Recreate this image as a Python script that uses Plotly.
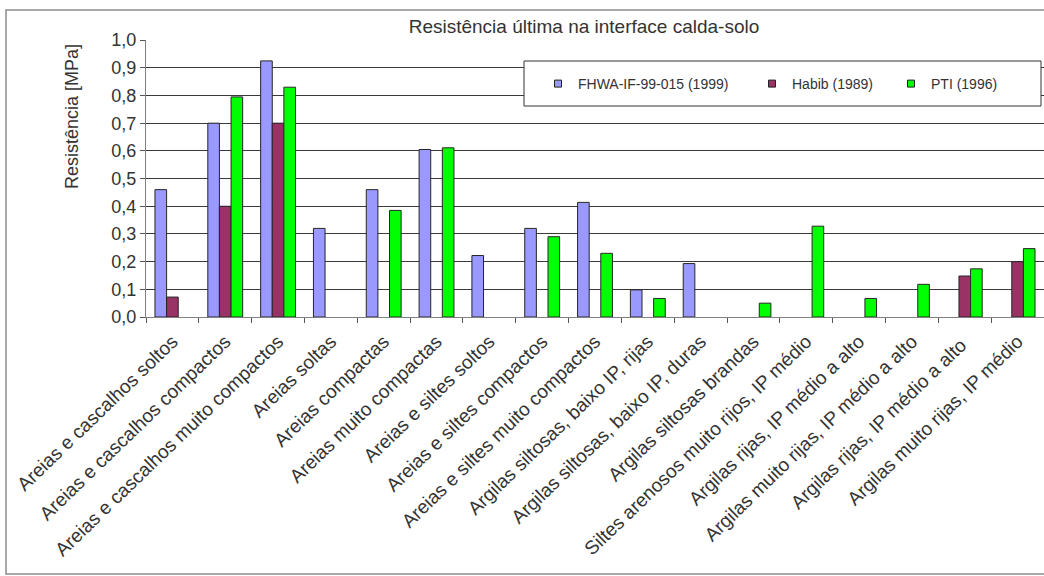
import plotly.graph_objects as go

# ---------------- data ----------------
categories = [
    "Areias e cascalhos soltos",
    "Areias e cascalhos compactos",
    "Areias e cascalhos muito compactos",
    "Areias soltas",
    "Areias compactas",
    "Areias muito compactas",
    "Areias e siltes soltos",
    "Areias e siltes compactos",
    "Areias e siltes muito compactos",
    "Argilas siltosas, baixo IP, rijas",
    "Argilas siltosas, baixo IP, duras",
    "Argilas siltosas brandas",
    "Siltes arenosos muito rijos, IP médio",
    "Argilas rijas, IP médio a alto",
    "Argilas muito rijas, IP médio a alto",
    "Argilas rijas, IP médio a alto ",
    "Argilas muito rijas, IP médio",
]
fhwa = [0.46, 0.70, 0.925, 0.32, 0.46, 0.605, 0.222, 0.32, 0.414, 0.098, 0.193,
        None, None, None, None, None, None]
habib = [0.072, 0.40, 0.70, None, None, None, None, None, None, None, None,
         None, None, None, None, 0.148, 0.20]
pti = [None, 0.795, 0.83, None, 0.385, 0.611, None, 0.29, 0.23, 0.067, None,
       0.05, 0.328, 0.067, 0.118, 0.174, 0.247]
series_names = ["FHWA-IF-99-015 (1999)", "Habib (1989)", "PTI (1996)"]
series_values = [fhwa, habib, pti]
colors = ["#9999FF", "#993366", "#00FF00"]
yticks = [0.0, 0.1, 0.2, 0.3, 0.4, 0.5, 0.6, 0.7, 0.8, 0.9, 1.0]
title_text = "Resistência última na interface calda-solo"
ytitle_text = "Resistência [MPa]"

# ---------------- layout geometry (pixels) ----------------
W, H = 1044, 576
PL, PR, PT, PB = 146, 1044, 40, 317   # plot area edges
pw, ph = PR - PL, PB - PT


def px(x):
    return (x - PL) / pw


def py(y):
    return (PB - y) / ph


FONT = "Liberation Sans, Arial, sans-serif"
TXT = "#333333"

fig = go.Figure()
for name, vals, col in zip(series_names, series_values, colors):
    fig.add_trace(go.Bar(
        x=categories, y=vals, name=name,
        marker=dict(color=col, line=dict(color="#262626", width=1)),
        showlegend=False,
    ))

legend_widths = [169, 94, 80]
for name, col, lw in zip(series_names, colors, legend_widths):
    fig.add_trace(go.Scatter(
        x=[None], y=[None], mode="markers", name=name,
        marker=dict(symbol="square", size=7, color=col,
                    line=dict(color="#222222", width=1)),
        legendwidth=lw,
    ))

fig.update_layout(
    width=W, height=H,
    margin=dict(l=PL, r=W - PR, t=PT, b=H - PB),
    paper_bgcolor="white", plot_bgcolor="white",
    separators=",.",
    barmode="group", bargap=0.34, bargroupgap=0,
    font=dict(family=FONT, color=TXT),
    title=dict(text=title_text, x=584 / W, xref="container", xanchor="center",
               y=1 - 26 / H, yref="container", yanchor="middle",
               font=dict(size=19, family=FONT, color=TXT)),
    showlegend=True,
    legend=dict(orientation="h", x=px(538), xanchor="left",
                y=py(84), yanchor="middle",
                bgcolor="rgba(0,0,0,0)", borderwidth=0,
                font=dict(size=14, family=FONT, color=TXT),
                itemwidth=30),
    xaxis=dict(
        type="category", range=[-0.5, len(categories) - 0.5],
        tickangle=-44, tickson="boundaries", ticks="outside", ticklen=5,
        ticklabelstandoff=5,
        tickcolor="#555555", showline=True, linecolor="#808080", linewidth=1,
        showgrid=False, tickfont=dict(size=19, family=FONT, color=TXT),
        fixedrange=True,
    ),
    yaxis=dict(
        range=[0, 1.0005], tickvals=yticks, tickformat=".1f",
        ticks="outside", ticklen=5, tickcolor="#555555",
        showline=True, linecolor="#808080", linewidth=1,
        showgrid=True, gridcolor="#3a3a3a", gridwidth=1, zeroline=False,
        tickfont=dict(size=18, family=FONT, color=TXT),
    ),
    annotations=[dict(
        text=ytitle_text, textangle=-90, showarrow=False,
        xref="paper", yref="paper", x=px(72), y=py(117),
        xanchor="center", yanchor="middle",
        font=dict(size=18, family=FONT, color=TXT),
    )],
    shapes=[
        dict(type="rect", xref="paper", yref="paper",
             x0=px(6), x1=px(1060), y0=py(574), y1=py(10),
             line=dict(color="#8c8c8c", width=1.5), layer="below"),
        dict(type="rect", xref="paper", yref="paper",
             x0=px(524), x1=px(1041), y0=py(106), y1=py(61),
             fillcolor="white", line=dict(color="#333333", width=1),
             layer="above"),
    ],
)

fig.write_html("out.html")
